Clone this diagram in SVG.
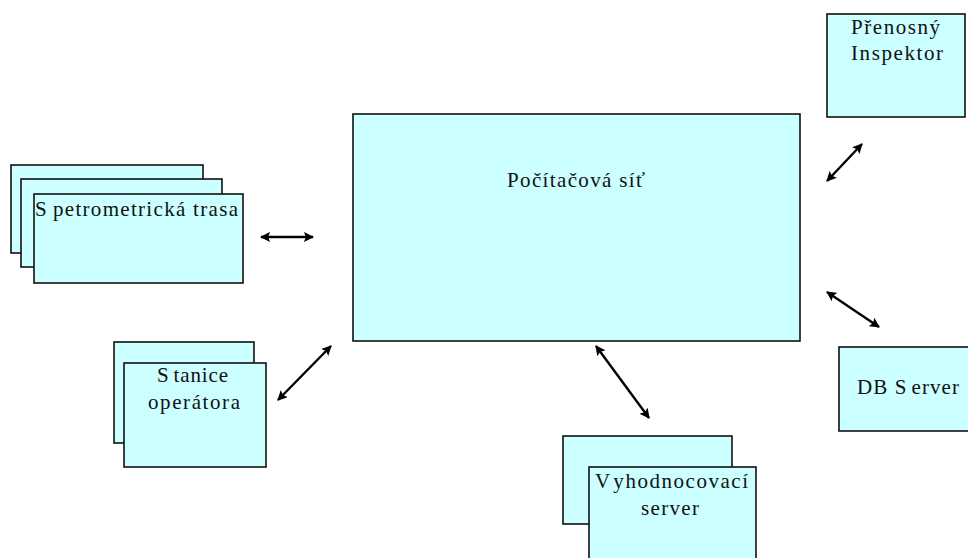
<svg xmlns="http://www.w3.org/2000/svg" width="968" height="558" viewBox="0 0 968 558">
  <style>
    .box { fill: #CCFFFF; stroke: #111; stroke-width: 1.6; }
    .lbl { font-family: "Liberation Serif", "Times New Roman", serif; font-size: 21px; fill: #111; }
    .mid { text-anchor: middle; }
    .link { stroke: #000; stroke-width: 2.4; fill: none; marker-start: url(#head); marker-end: url(#head); }
  </style>
  <defs>
    <marker id="head" viewBox="0 0 10 10" refX="9" refY="5" markerWidth="4.2" markerHeight="4.2" orient="auto-start-reverse" markerUnits="strokeWidth">
      <path d="M0,0 L10,5 L0,10 L2,5 z" fill="#000"/>
    </marker>
  </defs>

  <rect width="968" height="558" fill="#fff"/>

  <!-- central network -->
  <g id="network">
    <rect class="box" x="353" y="114" width="447" height="227"/>
    <text class="lbl" x="507" y="187" textLength="138" lengthAdjust="spacing">Počítačová síť</text>
  </g>

  <!-- stacked spectrometric lines -->
  <g id="spectrometric">
    <rect class="box" x="11" y="165" width="192" height="88"/>
    <rect class="box" x="21" y="179" width="201" height="88"/>
    <rect class="box" x="34" y="194" width="209" height="89"/>
    <text class="lbl" x="35" y="216" textLength="203" lengthAdjust="spacing">S<tspan dx="5">petrometrická trasa</tspan></text>
  </g>

  <!-- operator stations -->
  <g id="operator">
    <rect class="box" x="114" y="342" width="140" height="101"/>
    <rect class="box" x="124" y="363" width="142" height="104"/>
    <text class="lbl" x="157" y="382" textLength="71" lengthAdjust="spacing">S<tspan dx="4">tanice</tspan></text>
    <text class="lbl mid" x="194" y="409" textLength="92" lengthAdjust="spacing">operátora</text>
  </g>

  <!-- evaluation server -->
  <g id="evaluation">
    <rect class="box" x="563" y="436" width="169" height="88"/>
    <rect class="box" x="589" y="467" width="167" height="100"/>
    <text class="lbl" x="595" y="488" textLength="153" lengthAdjust="spacing">V<tspan dx="4">yhodnocovací</tspan></text>
    <text class="lbl mid" x="670" y="515" textLength="58" lengthAdjust="spacing">server</text>
  </g>

  <!-- portable inspector -->
  <g id="inspector">
    <rect class="box" x="827" y="14" width="138" height="103"/>
    <text class="lbl" x="851" y="34" textLength="89" lengthAdjust="spacing">Přenosný</text>
    <text class="lbl" x="851" y="60" textLength="92" lengthAdjust="spacing">Inspektor</text>
  </g>

  <!-- database server -->
  <g id="db">
    <rect class="box" x="839" y="347" width="140" height="84"/>
    <text class="lbl" x="857" y="394" textLength="102" lengthAdjust="spacing">DB S<tspan dx="4">erver</tspan></text>
  </g>

  <!-- bidirectional links -->
  <g id="links">
    <line class="link" x1="261" y1="237" x2="313" y2="237"/>
    <line class="link" x1="278" y1="400" x2="331" y2="346"/>
    <line class="link" x1="596" y1="346" x2="649" y2="418"/>
    <line class="link" x1="827" y1="181" x2="862" y2="144"/>
    <line class="link" x1="827" y1="292" x2="879" y2="327"/>
  </g>
</svg>
